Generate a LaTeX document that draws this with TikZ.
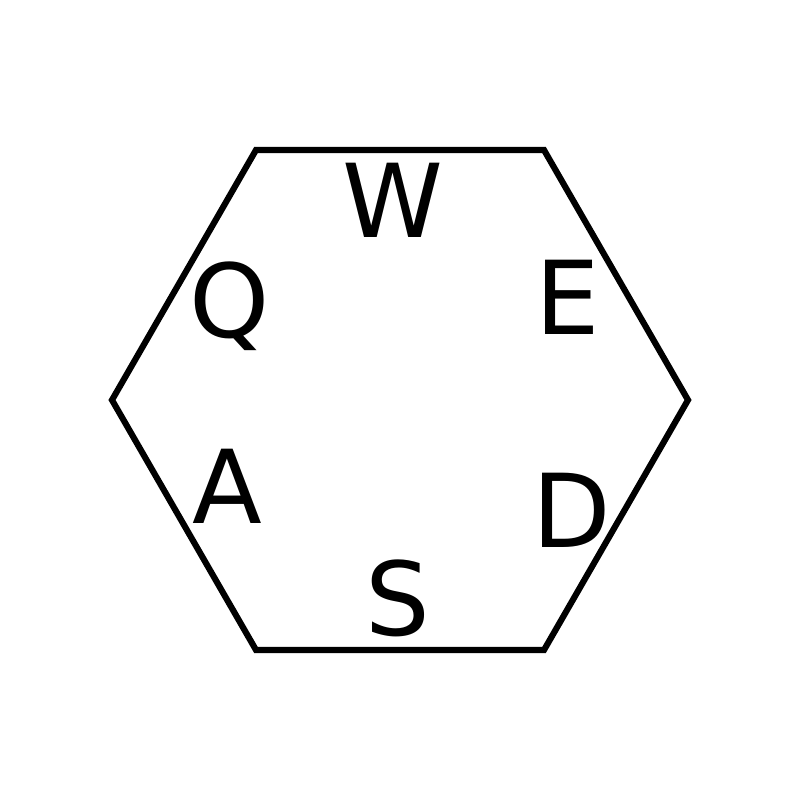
\documentclass[tikz,border=0pt]{standalone}
\usepackage{fontspec}
\setmainfont{DejaVu Sans}
\tikzset{
  hexline/.style={draw=black,line width=1.75pt,line join=miter},
  key/.style={inner sep=0pt,font=\fontsize{29}{30}\selectfont,
    text height=21.2pt,text depth=0pt,anchor=center},
}
\begin{document}
\begin{tikzpicture}[x=0.01cm,y=-0.01cm]
  \useasboundingbox (0,0) rectangle (800,800);
  % hexagon corners
  \coordinate (h1) at (256,150);
  \coordinate (h2) at (544,150);
  \coordinate (h3) at (688,400);
  \coordinate (h4) at (544,650);
  \coordinate (h5) at (256,650);
  \coordinate (h6) at (112,400);
  \draw[hexline] (h1) -- (h2) -- (h3) -- (h4) -- (h5) -- (h6) -- cycle;
  % letters
  \node[key] (w) at (393,200) {W};
  \node[key] (q) at (230,300) {Q};
  \node[key] (e) at (568,297) {E};
  \node[key] (a) at (227,486) {A};
  \node[key] (d) at (572,510) {D};
  \node[key] (s) at (398,598) {S};
\end{tikzpicture}
\end{document}
